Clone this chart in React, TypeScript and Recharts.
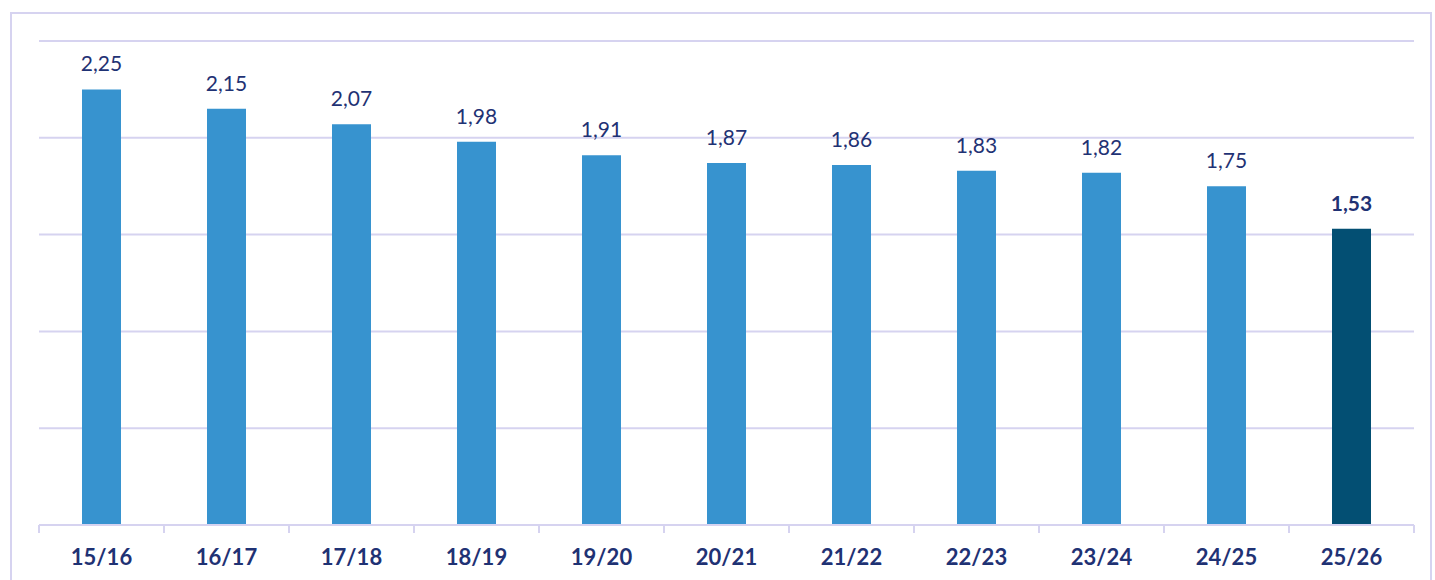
import React from "react";
import { Bar, BarChart, CartesianGrid, Cell, LabelList, XAxis, YAxis } from "recharts";

const seasons = ["15/16", "16/17", "17/18", "18/19", "19/20", "20/21", "21/22", "22/23", "23/24", "24/25", "25/26"];
const values = [2.25, 2.15, 2.07, 1.98, 1.91, 1.87, 1.86, 1.83, 1.82, 1.75, 1.53];
const yTicks = [0, 0.5, 1, 1.5, 2, 2.5];

const data = seasons.map((season, i) => ({ season, value: values[i] }));

const NAVY = "#1F3274";
const GRID = "#D6D3F0";

const fmt = (v: number) => v.toFixed(2).replace(".", ",");

const XTick = (props: any) => {
  const { x, y, payload, index } = props;
  const half = payload && payload.offset ? payload.offset : 62.5;
  const last = index === seasons.length - 1;
  return (
    <g>
      <line x1={x - half} x2={x - half} y1={y} y2={y + 8} stroke={GRID} strokeWidth={2} />
      {last && <line x1={x + half} x2={x + half} y1={y} y2={y + 8} stroke={GRID} strokeWidth={2} />}
      <text x={x} y={y + 40} textAnchor="middle" fill={NAVY} fontSize={22} fontWeight={700} fontFamily="Lato">
        {payload.value}
      </text>
    </g>
  );
};

const ValueLabel = (props: any) => {
  const { x, y, width, value, index } = props;
  const last = index === seasons.length - 1;
  return (
    <text
      x={x + width / 2}
      y={y - 18}
      textAnchor="middle"
      fill={NAVY}
      fontSize={21}
      fontWeight={last ? 700 : 400}
      fontFamily="Lato"
    >
      {fmt(value)}
    </text>
  );
};

export default function App() {
  return (
    <div style={{ position: "absolute", left: 0, top: 0, width: 1435, height: 580, overflow: "hidden", background: "#fff" }}>
      <div
        style={{
          position: "absolute",
          left: 10,
          top: 12,
          width: 1422,
          height: 620,
          border: `2px solid ${GRID}`,
          boxSizing: "border-box",
        }}
      />
      <div style={{ position: "absolute", left: 0, top: 0 }}>
        <BarChart width={1435} height={580} data={data} margin={{ top: 41, right: 21, left: 39, bottom: 0 }}>
          <CartesianGrid vertical={false} stroke={GRID} strokeWidth={2} />
          <YAxis hide domain={[0, 2.5]} ticks={yTicks} />
          <XAxis
            dataKey="season"
            interval={0}
            axisLine={{ stroke: GRID, strokeWidth: 2 }}
            tickLine={false}
            tickSize={0}
            tickMargin={0}
            height={55}
            tick={<XTick />}
          />
          <Bar dataKey="value" barSize={39} isAnimationActive={false}>
            {data.map((d, i) => (
              <Cell key={d.season} fill={i === data.length - 1 ? "#034F73" : "#3793CF"} />
            ))}
            <LabelList dataKey="value" content={<ValueLabel />} />
          </Bar>
        </BarChart>
      </div>
    </div>
  );
}
